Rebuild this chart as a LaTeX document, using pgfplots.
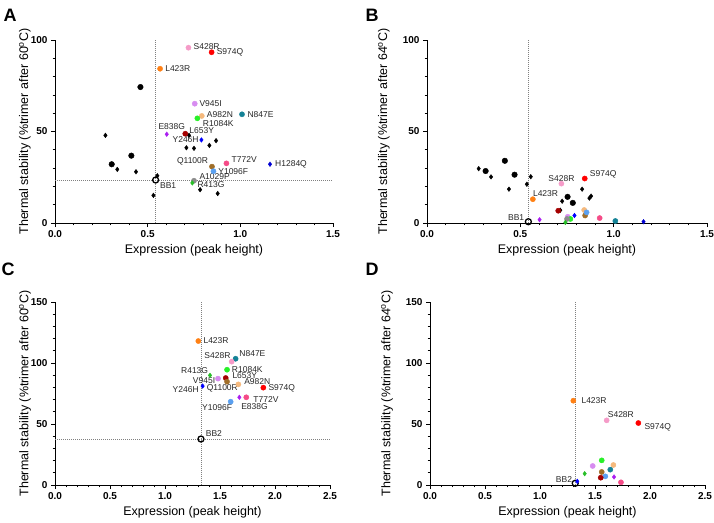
\documentclass[border=0pt]{standalone}
\usepackage{fontspec}
\setmainfont{Liberation Sans}
\usepackage{pgfplots}
\pgfplotsset{compat=1.18}

\definecolor{cS428R}{RGB}{245,155,200}
\definecolor{cS974Q}{RGB}{255,0,0}
\definecolor{cL423R}{RGB}{255,128,20}
\definecolor{cV945I}{RGB}{215,140,240}
\definecolor{cA982N}{RGB}{245,185,125}
\definecolor{cN847E}{RGB}{20,130,150}
\definecolor{cR1084K}{RGB}{40,240,40}
\definecolor{cL653Y}{RGB}{165,0,0}
\definecolor{cE838G}{RGB}{170,30,240}
\definecolor{cY246H}{RGB}{0,0,255}
\definecolor{cT772V}{RGB}{245,75,135}
\definecolor{cH1284Q}{RGB}{0,0,210}
\definecolor{cQ1100R}{RGB}{160,110,40}
\definecolor{cY1096F}{RGB}{90,160,240}
\definecolor{cA1029P}{RGB}{140,140,140}
\definecolor{cR413G}{RGB}{40,190,40}

\newcommand{\labfont}{\fontsize{12.5}{14}\selectfont}

\pgfplotsset{
  gp/.style={
    scale only axis, axis lines=left,
    axis line style={-, line width=0.9pt},
    tick align=outside, major tick length=4pt, minor tick length=2.3pt,
    every tick/.style={black, line width=0.8pt},
    xmin=0, ymin=0, clip=false,
    anchor=south west,
    minor x tick num=4, minor y tick num=4,
    xlabel={Expression (peak height)},
    tick label style={font=\fontsize{10}{12}\selectfont\bfseries},
    /pgf/number format/assume math mode=true,
    xticklabel style={/pgf/number format/.cd, fixed, fixed zerofill, precision=1},
    every axis x label/.style={at={(axis description cs:0.5,0)}, anchor=center, yshift=-27pt, font=\labfont},
  },
  cdot/.style={only marks, mark=*, mark size=2.6pt, mark options={draw=#1, fill=#1}},
  cdia/.style={only marks, mark=diamond*, mark size=2.3pt, mark options={draw=#1, fill=#1}},
  bbmark/.style={only marks, mark=o, mark size=3pt, mark options={draw=black, line width=1.3pt}},
  refline/.style={gray, line width=0.7pt, dash pattern=on 1pt off 1pt},
}
\tikzset{lab/.style={font=\fontsize{8.5}{10}\selectfont, inner sep=0pt, text=black!85}}

\begin{document}
\begin{tikzpicture}
\path[use as bounding box] (0,0) rectangle (714pt,-522pt);

\node[font=\fontsize{18}{20}\selectfont\bfseries] at (10pt,-15pt) {A};
\node[font=\fontsize{18}{20}\selectfont\bfseries] at (372pt,-15pt) {B};
\node[font=\fontsize{18}{20}\selectfont\bfseries] at (8pt,-269pt) {C};
\node[font=\fontsize{18}{20}\selectfont\bfseries] at (372pt,-269pt) {D};

% ---------------- Panel A ----------------
\begin{axis}[gp, at={(55pt,-223pt)}, width=278pt, height=183pt,
  xmax=1.5, ymax=100, xtick={0,0.5,1,1.5}, ytick={0,50,100},
  ylabel={Thermal stability (\%trimer after 60\textsuperscript{o}C)},
  every axis y label/.style={at={(axis description cs:-0.108,0.5)}, rotate=90, anchor=center, font=\labfont}]
\addplot[refline] coordinates {(0.543,0) (0.543,100)};
\addplot[refline] coordinates {(0,23.5) (1.5,23.5)};
% black reference points
\addplot[only marks, mark=*, mark size=2.8pt, black] coordinates {(0.461,74.3) (0.412,36.8) (0.306,32.1)};
\addplot[cdia=black] coordinates {(0.272,47.9) (0.336,29.3) (0.437,28.0) (0.552,25.8) (0.531,15.1) (0.723,47.9) (0.709,41.1) (0.75,40.8) (0.833,42.4) (0.869,45.0) (0.783,18.2) (0.878,16.1)};
% mutants
\addplot[cdot=cS428R] coordinates {(0.72,95.8)};
\addplot[cdot=cS974Q] coordinates {(0.845,93.3)};
\addplot[cdot=cL423R] coordinates {(0.567,84.3)};
\addplot[cdot=cV945I] coordinates {(0.754,65.2)};
\addplot[cdot=cA982N] coordinates {(0.792,58.5)};
\addplot[cdot=cN847E] coordinates {(1.009,59.4)};
\addplot[cdot=cR1084K] coordinates {(0.768,57.2)};
\addplot[cdot=cL653Y] coordinates {(0.703,48.8)};
\addplot[cdia=cE838G] coordinates {(0.603,48.5)};
\addplot[cdia=cY246H] coordinates {(0.79,45.4)};
\addplot[cdot=cT772V] coordinates {(0.925,32.6)};
\addplot[cdia=cH1284Q] coordinates {(1.16,32.1)};
\addplot[cdot=cQ1100R] coordinates {(0.847,30.8)};
\addplot[cdot=cY1096F] coordinates {(0.855,28.3)};
\addplot[cdot=cA1029P] coordinates {(0.75,23.1)};
\addplot[cdia=cR413G] coordinates {(0.741,21.9)};
\addplot[bbmark] coordinates {(0.543,23.5)};
\node[lab, anchor=west, xshift=5pt, yshift=1pt] at (axis cs:0.72,95.8) {S428R};
\node[lab, anchor=west, xshift=5pt] at (axis cs:0.845,93.3) {S974Q};
\node[lab, anchor=west, xshift=5pt] at (axis cs:0.567,84.3) {L423R};
\node[lab, anchor=west, xshift=4.6pt] at (axis cs:0.754,65.2) {V945I};
\node[lab, anchor=west, xshift=5pt, yshift=1pt] at (axis cs:0.792,58.5) {A982N};
\node[lab, anchor=west, xshift=5.3pt] at (axis cs:1.009,59.4) {N847E};
\node[lab, anchor=west, xshift=5.4pt, yshift=-5pt] at (axis cs:0.768,57.2) {R1084K};
\node[lab, anchor=west, xshift=4pt, yshift=3pt] at (axis cs:0.703,48.8) {L653Y};
\node[lab, anchor=south, xshift=5pt, yshift=4pt] at (axis cs:0.603,48.5) {E838G};
\node[lab, anchor=east, xshift=-2.6pt] at (axis cs:0.79,45.4) {Y246H};
\node[lab, anchor=west, xshift=5pt, yshift=4pt] at (axis cs:0.925,32.6) {T772V};
\node[lab, anchor=west, xshift=5pt] at (axis cs:1.16,32.1) {H1284Q};
\node[lab, anchor=east, xshift=-3.7pt, yshift=5.7pt] at (axis cs:0.847,30.8) {Q1100R};
\node[lab, anchor=west, xshift=4.7pt] at (axis cs:0.855,28.3) {Y1096F};
\node[lab, anchor=west, xshift=5.3pt, yshift=4pt] at (axis cs:0.75,23.1) {A1029P};
\node[lab, anchor=west, xshift=5pt, yshift=-1.3pt] at (axis cs:0.741,21.9) {R413G};
\node[lab, anchor=west, xshift=4.3pt, yshift=-6pt] at (axis cs:0.543,23.5) {BB1};
\end{axis}

% ---------------- Panel B ----------------
\begin{axis}[gp, at={(427pt,-223pt)}, width=280pt, height=183pt,
  xmax=1.5, ymax=100, xtick={0,0.5,1,1.5}, ytick={0,50,100},
  ylabel={Thermal stability (\%trimer after 64\textsuperscript{o}C)},
  every axis y label/.style={at={(axis description cs:-0.154,0.5)}, rotate=90, anchor=center, font=\labfont}]
\addplot[refline] coordinates {(0.543,0) (0.543,100)};
\addplot[only marks, mark=*, mark size=2.8pt, black] coordinates {(0.417,34.0) (0.314,28.4) (0.469,26.4) (0.753,14.3) (0.781,11.0)};
\addplot[cdia=black] coordinates {(0.277,29.7) (0.343,25.2) (0.439,18.5) (0.535,21.2) (0.556,25.3) (0.724,11.9) (0.831,18.5) (0.87,13.6) (0.879,14.7) (0.714,7.0)};
\addplot[cdot=cS428R] coordinates {(0.72,21.5)};
\addplot[cdot=cS974Q] coordinates {(0.845,24.3)};
\addplot[cdot=cL423R] coordinates {(0.567,13.0)};
\addplot[cdot=cV945I] coordinates {(0.754,3.4)};
\addplot[cdot=cA982N] coordinates {(0.842,7.1)};
\addplot[cdot=cN847E] coordinates {(1.009,1.1)};
\addplot[cdot=cR1084K] coordinates {(0.768,2.2)};
\addplot[cdot=cL653Y] coordinates {(0.703,6.7)};
\addplot[cdia=cE838G] coordinates {(0.603,1.8)};
\addplot[cdia=cY246H] coordinates {(0.79,4.1)};
\addplot[cdot=cT772V] coordinates {(0.925,2.7)};
\addplot[cdia=cH1284Q] coordinates {(1.16,0.7)};
\addplot[cdot=cQ1100R] coordinates {(0.847,4.1)};
\addplot[cdot=cY1096F] coordinates {(0.855,5.8)};
\addplot[cdot=cA1029P] coordinates {(0.75,2.2)};
\addplot[cdia=cR413G] coordinates {(0.741,0.3)};
\addplot[bbmark] coordinates {(0.543,0.7)};
\node[lab, anchor=south, yshift=2pt] at (axis cs:0.72,21.5) {S428R};
\node[lab, anchor=west, xshift=5pt, yshift=4pt] at (axis cs:0.845,24.3) {S974Q};
\node[lab, anchor=south west, yshift=2pt] at (axis cs:0.567,13.0) {L423R};
\node[lab, anchor=east, xshift=-4pt, yshift=4pt] at (axis cs:0.543,0.7) {BB1};
\end{axis}

% ---------------- Panel C ----------------
\begin{axis}[gp, at={(55pt,-485pt)}, width=275pt, height=183pt,
  xmax=2.5, ymax=150, xtick={0,0.5,1,1.5,2,2.5}, ytick={0,50,100,150},
  ylabel={Thermal stability (\%trimer after 60\textsuperscript{o}C)},
  every axis y label/.style={at={(axis description cs:-0.109,0.5)}, rotate=90, anchor=center, font=\labfont}]
\addplot[refline] coordinates {(1.327,0) (1.327,150)};
\addplot[refline] coordinates {(0,37.7) (2.5,37.7)};
\addplot[cdot=cL423R] coordinates {(1.303,118.0)};
\addplot[cdot=cN847E] coordinates {(1.642,103.5)};
\addplot[cdot=cS428R] coordinates {(1.606,101.1)};
\addplot[cdot=cR1084K] coordinates {(1.564,94.5)};
\addplot[cdia=cR413G] coordinates {(1.409,89.9)};
\addplot[cdot=cV945I] coordinates {(1.482,87.2)};
\addplot[cdot=cL653Y] coordinates {(1.552,87.7)};
\addplot[cdot=cQ1100R] coordinates {(1.564,84.7)};
\addplot[cdot=cA982N] coordinates {(1.667,82.5)};
\addplot[cdot=cS974Q] coordinates {(1.894,79.8)};
\addplot[cdia=cY246H] coordinates {(1.342,81.1)};
\addplot[cdia=cE838G] coordinates {(1.676,71.9)};
\addplot[cdot=cT772V] coordinates {(1.739,71.9)};
\addplot[cdot=cY1096F] coordinates {(1.597,68.3)};
\addplot[bbmark] coordinates {(1.327,37.7)};
\node[lab, anchor=west, xshift=5pt] at (axis cs:1.303,118.0) {L423R};
\node[lab, anchor=west, xshift=3.6pt, yshift=5.4pt] at (axis cs:1.642,103.5) {N847E};
\node[lab, anchor=east, xshift=-1pt, yshift=5.7pt] at (axis cs:1.606,101.1) {S428R};
\node[lab, anchor=west, xshift=4.7pt] at (axis cs:1.564,94.5) {R1084K};
\node[lab, anchor=east, xshift=-1.7pt, yshift=4.3pt] at (axis cs:1.409,89.9) {R413G};
\node[lab, anchor=west, xshift=6.6pt, yshift=2.3pt] at (axis cs:1.552,87.7) {L653Y};
\node[lab, anchor=east, xshift=-2.7pt, yshift=-2pt] at (axis cs:1.482,87.2) {V945I};
\node[lab, anchor=west, xshift=5.7pt, yshift=2.6pt] at (axis cs:1.667,82.5) {A982N};
\node[lab, anchor=west, xshift=5pt, yshift=-0.6pt] at (axis cs:1.894,79.8) {S974Q};
\node[lab, anchor=east, xshift=-3.7pt, yshift=-4pt] at (axis cs:1.342,81.1) {Y246H};
\node[lab, anchor=north, xshift=-4.7pt, yshift=-3pt] at (axis cs:1.564,84.7) {Q1100R};
\node[lab, anchor=west, xshift=7pt, yshift=-2.7pt] at (axis cs:1.739,71.9) {T772V};
\node[lab, anchor=north west, xshift=1.7pt, yshift=-6pt] at (axis cs:1.676,71.9) {E838G};
\node[lab, anchor=north east, xshift=1.5pt, yshift=-2.5pt] at (axis cs:1.597,68.3) {Y1096F};
\node[lab, anchor=south west, xshift=4.7pt, yshift=2pt] at (axis cs:1.327,37.7) {BB2};
\end{axis}

% ---------------- Panel D ----------------
\begin{axis}[gp, at={(430pt,-485pt)}, width=275pt, height=183pt,
  xmax=2.5, ymax=150, xtick={0,0.5,1,1.5,2,2.5}, ytick={0,50,100,150},
  ylabel={Thermal stability (\%trimer after 64\textsuperscript{o}C)},
  every axis y label/.style={at={(axis description cs:-0.156,0.5)}, rotate=90, anchor=center, font=\labfont}]
\addplot[refline] coordinates {(1.321,0) (1.321,150)};
\addplot[cdot=cL423R] coordinates {(1.303,69.1)};
\addplot[cdot=cS428R] coordinates {(1.606,53.0)};
\addplot[cdot=cS974Q] coordinates {(1.894,50.8)};
\addplot[cdot=cR1084K] coordinates {(1.561,20.2)};
\addplot[cdot=cV945I] coordinates {(1.479,15.6)};
\addplot[cdot=cA982N] coordinates {(1.667,16.4)};
\addplot[cdot=cN847E] coordinates {(1.639,12.6)};
\addplot[cdot=cQ1100R] coordinates {(1.561,10.7)};
\addplot[cdia=cR413G] coordinates {(1.406,9.3)};
\addplot[cdot=cY1096F] coordinates {(1.594,7.1)};
\addplot[cdot=cL653Y] coordinates {(1.552,6.0)};
\addplot[cdia=cE838G] coordinates {(1.673,6.6)};
\addplot[cdot=cT772V] coordinates {(1.736,2.2)};
\addplot[bbmark] coordinates {(1.32,1.4)};
\addplot[cdia=cY246H] coordinates {(1.339,3.0)};
\node[lab, anchor=west, xshift=8pt] at (axis cs:1.303,69.1) {L423R};
\node[lab, anchor=south west, xshift=1pt, yshift=3pt] at (axis cs:1.606,53.0) {S428R};
\node[lab, anchor=west, xshift=6pt, yshift=-4pt] at (axis cs:1.894,50.8) {S974Q};
\node[lab, anchor=east, xshift=-3pt, yshift=4pt] at (axis cs:1.32,1.4) {BB2};
\end{axis}
\end{tikzpicture}
\end{document}
